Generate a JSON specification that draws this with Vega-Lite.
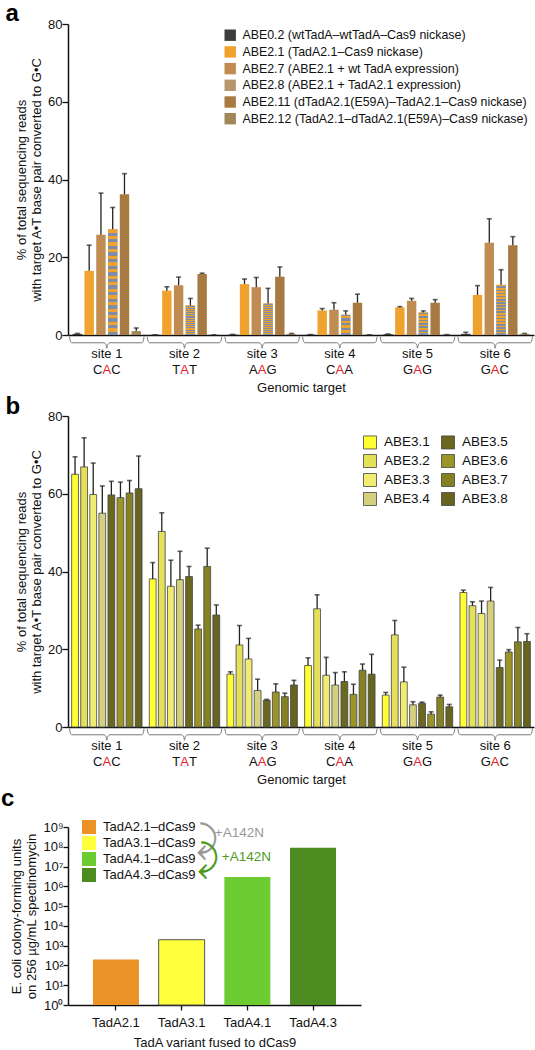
{
  "$schema": "https://vega.github.io/schema/vega-lite/v6.json",
  "padding": {"left": 0, "top": 2, "right": 0, "bottom": 0},
  "spacing": 1,
  "resolve": {"scale": {"fill": "independent", "xOffset": "independent"}, "legend": {"fill": "independent"}},
  "config": {
    "font": "Liberation Sans",
    "view": {"stroke": null},
    "axis": {"domainColor": "#111", "domainWidth": 1.5, "tickColor": "#111", "tickWidth": 1.3, "labelColor": "#111", "titleColor": "#111", "labelFontSize": 13, "titleFontSize": 13, "titleFontWeight": "normal", "grid": false},
    "axisY": {"labelPadding": 0, "titlePadding": 4},
    "legend": {"labelColor": "#111", "symbolType": "square"},
    "title": {"anchor": "start", "frame": "bounds", "fontSize": 24, "fontWeight": "bold", "color": "#000", "dx": -10}
  },
  "datasets": {
    "a": [
      {"site": "site 1", "v": "ABE0.2 (wtTadA–wtTadA–Cas9 nickase)", "val": 0.3, "err": 0.4},
      {"site": "site 1", "v": "ABE2.1 (TadA2.1–Cas9 nickase)", "val": 16.5, "err": 23.1},
      {"site": "site 1", "v": "ABE2.7 (ABE2.1 + wt TadA expression)", "val": 25.8, "err": 36.5},
      {"site": "site 1", "v": "ABE2.8 (ABE2.1 + TadA2.1 expression)", "val": 27.2, "err": 32.8},
      {"site": "site 1", "v": "ABE2.11 (dTadA2.1(E59A)–TadA2.1–Cas9 nickase)", "val": 36.2, "err": 41.5},
      {"site": "site 1", "v": "ABE2.12 (TadA2.1–dTadA2.1(E59A)–Cas9 nickase)", "val": 1.0, "err": 1.8},
      {"site": "site 2", "v": "ABE0.2 (wtTadA–wtTadA–Cas9 nickase)", "val": 0.05, "err": 0.05},
      {"site": "site 2", "v": "ABE2.1 (TadA2.1–Cas9 nickase)", "val": 11.4, "err": 12.4},
      {"site": "site 2", "v": "ABE2.7 (ABE2.1 + wt TadA expression)", "val": 12.8, "err": 14.9},
      {"site": "site 2", "v": "ABE2.8 (ABE2.1 + TadA2.1 expression)", "val": 7.6, "err": 9.4},
      {"site": "site 2", "v": "ABE2.11 (dTadA2.1(E59A)–TadA2.1–Cas9 nickase)", "val": 15.7, "err": 15.9},
      {"site": "site 2", "v": "ABE2.12 (TadA2.1–dTadA2.1(E59A)–Cas9 nickase)", "val": 0.05, "err": 0.05},
      {"site": "site 3", "v": "ABE0.2 (wtTadA–wtTadA–Cas9 nickase)", "val": 0.1, "err": 0.15},
      {"site": "site 3", "v": "ABE2.1 (TadA2.1–Cas9 nickase)", "val": 13.1, "err": 14.4},
      {"site": "site 3", "v": "ABE2.7 (ABE2.1 + wt TadA expression)", "val": 12.3, "err": 14.8},
      {"site": "site 3", "v": "ABE2.8 (ABE2.1 + TadA2.1 expression)", "val": 8.1, "err": 12.0},
      {"site": "site 3", "v": "ABE2.11 (dTadA2.1(E59A)–TadA2.1–Cas9 nickase)", "val": 15.0, "err": 17.5},
      {"site": "site 3", "v": "ABE2.12 (TadA2.1–dTadA2.1(E59A)–Cas9 nickase)", "val": 0.3, "err": 0.4},
      {"site": "site 4", "v": "ABE0.2 (wtTadA–wtTadA–Cas9 nickase)", "val": 0.1, "err": 0.1},
      {"site": "site 4", "v": "ABE2.1 (TadA2.1–Cas9 nickase)", "val": 6.3, "err": 6.8},
      {"site": "site 4", "v": "ABE2.7 (ABE2.1 + wt TadA expression)", "val": 6.5, "err": 8.3},
      {"site": "site 4", "v": "ABE2.8 (ABE2.1 + TadA2.1 expression)", "val": 5.2, "err": 6.2},
      {"site": "site 4", "v": "ABE2.11 (dTadA2.1(E59A)–TadA2.1–Cas9 nickase)", "val": 8.3, "err": 10.5},
      {"site": "site 4", "v": "ABE2.12 (TadA2.1–dTadA2.1(E59A)–Cas9 nickase)", "val": 0.05, "err": 0.05},
      {"site": "site 5", "v": "ABE0.2 (wtTadA–wtTadA–Cas9 nickase)", "val": 0.2, "err": 0.25},
      {"site": "site 5", "v": "ABE2.1 (TadA2.1–Cas9 nickase)", "val": 7.1, "err": 7.3},
      {"site": "site 5", "v": "ABE2.7 (ABE2.1 + wt TadA expression)", "val": 8.8, "err": 9.4},
      {"site": "site 5", "v": "ABE2.8 (ABE2.1 + TadA2.1 expression)", "val": 5.8, "err": 6.2},
      {"site": "site 5", "v": "ABE2.11 (dTadA2.1(E59A)–TadA2.1–Cas9 nickase)", "val": 8.3, "err": 9.1},
      {"site": "site 5", "v": "ABE2.12 (TadA2.1–dTadA2.1(E59A)–Cas9 nickase)", "val": 0.1, "err": 0.1},
      {"site": "site 6", "v": "ABE0.2 (wtTadA–wtTadA–Cas9 nickase)", "val": 0.3, "err": 0.7},
      {"site": "site 6", "v": "ABE2.1 (TadA2.1–Cas9 nickase)", "val": 10.3, "err": 12.7},
      {"site": "site 6", "v": "ABE2.7 (ABE2.1 + wt TadA expression)", "val": 23.7, "err": 29.9},
      {"site": "site 6", "v": "ABE2.8 (ABE2.1 + TadA2.1 expression)", "val": 12.9, "err": 16.8},
      {"site": "site 6", "v": "ABE2.11 (dTadA2.1(E59A)–TadA2.1–Cas9 nickase)", "val": 23.1, "err": 25.3},
      {"site": "site 6", "v": "ABE2.12 (TadA2.1–dTadA2.1(E59A)–Cas9 nickase)", "val": 0.3, "err": 0.4}
    ],
    "b": [
      {"site": "site 1", "v": "ABE3.1", "val": 65.0, "err": 69.5},
      {"site": "site 1", "v": "ABE3.2", "val": 66.9, "err": 74.4},
      {"site": "site 1", "v": "ABE3.3", "val": 59.8, "err": 67.9},
      {"site": "site 1", "v": "ABE3.4", "val": 55.0, "err": 62.0},
      {"site": "site 1", "v": "ABE3.5", "val": 59.7, "err": 63.2},
      {"site": "site 1", "v": "ABE3.6", "val": 59.0, "err": 63.0},
      {"site": "site 1", "v": "ABE3.7", "val": 60.2, "err": 63.4},
      {"site": "site 1", "v": "ABE3.8", "val": 61.3, "err": 69.7},
      {"site": "site 2", "v": "ABE3.1", "val": 38.1, "err": 42.3},
      {"site": "site 2", "v": "ABE3.2", "val": 50.3, "err": 55.1},
      {"site": "site 2", "v": "ABE3.3", "val": 36.2, "err": 42.9},
      {"site": "site 2", "v": "ABE3.4", "val": 37.9, "err": 45.2},
      {"site": "site 2", "v": "ABE3.5", "val": 38.7, "err": 41.3},
      {"site": "site 2", "v": "ABE3.6", "val": 25.2, "err": 26.2},
      {"site": "site 2", "v": "ABE3.7", "val": 41.3, "err": 46.0},
      {"site": "site 2", "v": "ABE3.8", "val": 28.8, "err": 31.4},
      {"site": "site 3", "v": "ABE3.1", "val": 13.6, "err": 14.2},
      {"site": "site 3", "v": "ABE3.2", "val": 21.1, "err": 26.1},
      {"site": "site 3", "v": "ABE3.3", "val": 17.5, "err": 22.8},
      {"site": "site 3", "v": "ABE3.4", "val": 9.4, "err": 12.3},
      {"site": "site 3", "v": "ABE3.5", "val": 6.9, "err": 7.1},
      {"site": "site 3", "v": "ABE3.6", "val": 9.0, "err": 11.1},
      {"site": "site 3", "v": "ABE3.7", "val": 7.8, "err": 8.7},
      {"site": "site 3", "v": "ABE3.8", "val": 10.8, "err": 12.0},
      {"site": "site 4", "v": "ABE3.1", "val": 15.8, "err": 17.8},
      {"site": "site 4", "v": "ABE3.2", "val": 30.4, "err": 34.0},
      {"site": "site 4", "v": "ABE3.3", "val": 13.3, "err": 17.9},
      {"site": "site 4", "v": "ABE3.4", "val": 10.8, "err": 14.0},
      {"site": "site 4", "v": "ABE3.5", "val": 11.7, "err": 14.2},
      {"site": "site 4", "v": "ABE3.6", "val": 8.4, "err": 11.0},
      {"site": "site 4", "v": "ABE3.7", "val": 14.6, "err": 16.2},
      {"site": "site 4", "v": "ABE3.8", "val": 13.6, "err": 18.7},
      {"site": "site 5", "v": "ABE3.1", "val": 8.2, "err": 8.9},
      {"site": "site 5", "v": "ABE3.2", "val": 23.7, "err": 27.4},
      {"site": "site 5", "v": "ABE3.3", "val": 11.6, "err": 15.4},
      {"site": "site 5", "v": "ABE3.4", "val": 5.7, "err": 6.5},
      {"site": "site 5", "v": "ABE3.5", "val": 6.1, "err": 6.4},
      {"site": "site 5", "v": "ABE3.6", "val": 3.3, "err": 3.9},
      {"site": "site 5", "v": "ABE3.7", "val": 7.7, "err": 8.2},
      {"site": "site 5", "v": "ABE3.8", "val": 5.2, "err": 5.8},
      {"site": "site 6", "v": "ABE3.1", "val": 34.6, "err": 35.2},
      {"site": "site 6", "v": "ABE3.2", "val": 31.2, "err": 32.2},
      {"site": "site 6", "v": "ABE3.3", "val": 29.2, "err": 32.4},
      {"site": "site 6", "v": "ABE3.4", "val": 32.4, "err": 35.9},
      {"site": "site 6", "v": "ABE3.5", "val": 15.3, "err": 17.2},
      {"site": "site 6", "v": "ABE3.6", "val": 19.3, "err": 19.9},
      {"site": "site 6", "v": "ABE3.7", "val": 21.9, "err": 25.6},
      {"site": "site 6", "v": "ABE3.8", "val": 22.0, "err": 24.0}
    ],
    "sites": [
      {"site": "site 1", "c1": "C", "c2": "A", "c3": "C"},
      {"site": "site 2", "c1": "T", "c2": "A", "c3": "T"},
      {"site": "site 3", "c1": "A", "c2": "A", "c3": "G"},
      {"site": "site 4", "c1": "C", "c2": "A", "c3": "A"},
      {"site": "site 5", "c1": "G", "c2": "A", "c3": "G"},
      {"site": "site 6", "c1": "G", "c2": "A", "c3": "C"}
    ],
    "brace": [
      {"g": 0, "bx": 0.02, "by": -0.4}, {"g": 0, "bx": 0.03, "by": -1.5}, {"g": 0, "bx": 0.05, "by": -2.0}, {"g": 0, "bx": 0.46, "by": -2.0}, {"g": 0, "bx": 0.49, "by": -2.5}, {"g": 0, "bx": 0.5, "by": -3.4}, {"g": 0, "bx": 0.51, "by": -2.5}, {"g": 0, "bx": 0.54, "by": -2.0}, {"g": 0, "bx": 0.95, "by": -2.0}, {"g": 0, "bx": 0.97, "by": -1.5}, {"g": 0, "bx": 0.98, "by": -0.4},
      {"g": 1, "bx": 1.02, "by": -0.4}, {"g": 1, "bx": 1.03, "by": -1.5}, {"g": 1, "bx": 1.05, "by": -2.0}, {"g": 1, "bx": 1.46, "by": -2.0}, {"g": 1, "bx": 1.49, "by": -2.5}, {"g": 1, "bx": 1.5, "by": -3.4}, {"g": 1, "bx": 1.51, "by": -2.5}, {"g": 1, "bx": 1.54, "by": -2.0}, {"g": 1, "bx": 1.95, "by": -2.0}, {"g": 1, "bx": 1.97, "by": -1.5}, {"g": 1, "bx": 1.98, "by": -0.4},
      {"g": 2, "bx": 2.02, "by": -0.4}, {"g": 2, "bx": 2.03, "by": -1.5}, {"g": 2, "bx": 2.05, "by": -2.0}, {"g": 2, "bx": 2.46, "by": -2.0}, {"g": 2, "bx": 2.49, "by": -2.5}, {"g": 2, "bx": 2.5, "by": -3.4}, {"g": 2, "bx": 2.51, "by": -2.5}, {"g": 2, "bx": 2.54, "by": -2.0}, {"g": 2, "bx": 2.95, "by": -2.0}, {"g": 2, "bx": 2.97, "by": -1.5}, {"g": 2, "bx": 2.98, "by": -0.4},
      {"g": 3, "bx": 3.02, "by": -0.4}, {"g": 3, "bx": 3.03, "by": -1.5}, {"g": 3, "bx": 3.05, "by": -2.0}, {"g": 3, "bx": 3.46, "by": -2.0}, {"g": 3, "bx": 3.49, "by": -2.5}, {"g": 3, "bx": 3.5, "by": -3.4}, {"g": 3, "bx": 3.51, "by": -2.5}, {"g": 3, "bx": 3.54, "by": -2.0}, {"g": 3, "bx": 3.95, "by": -2.0}, {"g": 3, "bx": 3.97, "by": -1.5}, {"g": 3, "bx": 3.98, "by": -0.4},
      {"g": 4, "bx": 4.02, "by": -0.4}, {"g": 4, "bx": 4.03, "by": -1.5}, {"g": 4, "bx": 4.05, "by": -2.0}, {"g": 4, "bx": 4.46, "by": -2.0}, {"g": 4, "bx": 4.49, "by": -2.5}, {"g": 4, "bx": 4.5, "by": -3.4}, {"g": 4, "bx": 4.51, "by": -2.5}, {"g": 4, "bx": 4.54, "by": -2.0}, {"g": 4, "bx": 4.95, "by": -2.0}, {"g": 4, "bx": 4.97, "by": -1.5}, {"g": 4, "bx": 4.98, "by": -0.4},
      {"g": 5, "bx": 5.02, "by": -0.4}, {"g": 5, "bx": 5.03, "by": -1.5}, {"g": 5, "bx": 5.05, "by": -2.0}, {"g": 5, "bx": 5.46, "by": -2.0}, {"g": 5, "bx": 5.49, "by": -2.5}, {"g": 5, "bx": 5.5, "by": -3.4}, {"g": 5, "bx": 5.51, "by": -2.5}, {"g": 5, "bx": 5.54, "by": -2.0}, {"g": 5, "bx": 5.95, "by": -2.0}, {"g": 5, "bx": 5.97, "by": -1.5}, {"g": 5, "bx": 5.98, "by": -0.4}
    ],
    "c": [
      {"t": "TadA2.1", "cfu": 200},
      {"t": "TadA3.1", "cfu": 2000},
      {"t": "TadA4.1", "cfu": 3000000},
      {"t": "TadA4.3", "cfu": 90000000}
    ]
  },
  "vconcat": [
    {
      "title": {"text": "a", "offset": -8},
      "width": 466,
      "height": 311,
      "resolve": {"scale": {"x": "independent", "y": "independent"}},
      "layer": [
        {
          "encoding": {
            "x": {"field": "site", "type": "nominal", "scale": {"paddingInner": 0, "paddingOuter": 0},
                  "axis": {"title": "Genomic target", "labelAngle": 0, "ticks": false, "labelPadding": 12, "labelBaseline": "top", "titlePadding": 21}}
          },
          "layer": [
            {
              "data": {"name": "a"},
              "mark": {"type": "bar"},
              "encoding": {
                "xOffset": {"field": "v", "type": "nominal", "scale": {"paddingInner": 0.2, "paddingOuter": 0.4, "domain": ["ABE0.2 (wtTadA–wtTadA–Cas9 nickase)", "ABE2.1 (TadA2.1–Cas9 nickase)", "ABE2.7 (ABE2.1 + wt TadA expression)", "ABE2.8 (ABE2.1 + TadA2.1 expression)", "ABE2.11 (dTadA2.1(E59A)–TadA2.1–Cas9 nickase)", "ABE2.12 (TadA2.1–dTadA2.1(E59A)–Cas9 nickase)"]}},
                "y": {"field": "val", "type": "quantitative", "scale": {"domain": [0, 80], "nice": false},
                      "axis": {"title": ["% of total sequencing reads", "with target A•T base pair converted to G•C"], "values": [0, 10, 20, 30, 40, 50, 60, 70, 80], "labelExpr": "datum.value % 20 == 0 ? datum.label : ''", "tickSize": {"condition": {"test": "datum.value % 20 == 0", "value": 6}, "value": 4}}},
                "fill": {"field": "v", "type": "nominal",
                         "scale": {"domain": ["ABE0.2 (wtTadA–wtTadA–Cas9 nickase)", "ABE2.1 (TadA2.1–Cas9 nickase)", "ABE2.7 (ABE2.1 + wt TadA expression)", "ABE2.8 (ABE2.1 + TadA2.1 expression)", "ABE2.11 (dTadA2.1(E59A)–TadA2.1–Cas9 nickase)", "ABE2.12 (TadA2.1–dTadA2.1(E59A)–Cas9 nickase)"],
                                   "range": ["#3d3d3d", "#F0A22E", "#C08C52", "#B8976E", "#A67A40", "#A08658"]},
                         "legend": {"title": null, "orient": "none", "legendX": 156, "legendY": 5, "symbolSize": 130, "labelFontSize": 12.4, "labelLimit": 400, "rowPadding": 3.7, "labelOffset": 6, "symbolStrokeWidth": 0}}
              }
            },
            {
              "data": {"name": "a"},
              "transform": [{"filter": "datum.v == 'ABE2.8 (ABE2.1 + TadA2.1 expression)'"}],
              "mark": {"type": "bar", "fill": {"gradient": "linear", "x1": 0, "y1": 0, "x2": 0, "y2": 1, "stops": [
                {"offset": 0, "color": "#F0A22E"}, {"offset": 0.03125, "color": "#F0A22E"}, {"offset": 0.03125, "color": "#7F8CA6"}, {"offset": 0.0625, "color": "#7F8CA6"},
                {"offset": 0.0625, "color": "#F0A22E"}, {"offset": 0.09375, "color": "#F0A22E"}, {"offset": 0.09375, "color": "#7F8CA6"}, {"offset": 0.125, "color": "#7F8CA6"},
                {"offset": 0.125, "color": "#F0A22E"}, {"offset": 0.15625, "color": "#F0A22E"}, {"offset": 0.15625, "color": "#7F8CA6"}, {"offset": 0.1875, "color": "#7F8CA6"},
                {"offset": 0.1875, "color": "#F0A22E"}, {"offset": 0.21875, "color": "#F0A22E"}, {"offset": 0.21875, "color": "#7F8CA6"}, {"offset": 0.25, "color": "#7F8CA6"},
                {"offset": 0.25, "color": "#F0A22E"}, {"offset": 0.28125, "color": "#F0A22E"}, {"offset": 0.28125, "color": "#7F8CA6"}, {"offset": 0.3125, "color": "#7F8CA6"},
                {"offset": 0.3125, "color": "#F0A22E"}, {"offset": 0.34375, "color": "#F0A22E"}, {"offset": 0.34375, "color": "#7F8CA6"}, {"offset": 0.375, "color": "#7F8CA6"},
                {"offset": 0.375, "color": "#F0A22E"}, {"offset": 0.40625, "color": "#F0A22E"}, {"offset": 0.40625, "color": "#7F8CA6"}, {"offset": 0.4375, "color": "#7F8CA6"},
                {"offset": 0.4375, "color": "#F0A22E"}, {"offset": 0.46875, "color": "#F0A22E"}, {"offset": 0.46875, "color": "#7F8CA6"}, {"offset": 0.5, "color": "#7F8CA6"},
                {"offset": 0.5, "color": "#F0A22E"}, {"offset": 0.53125, "color": "#F0A22E"}, {"offset": 0.53125, "color": "#7F8CA6"}, {"offset": 0.5625, "color": "#7F8CA6"},
                {"offset": 0.5625, "color": "#F0A22E"}, {"offset": 0.59375, "color": "#F0A22E"}, {"offset": 0.59375, "color": "#7F8CA6"}, {"offset": 0.625, "color": "#7F8CA6"},
                {"offset": 0.625, "color": "#F0A22E"}, {"offset": 0.65625, "color": "#F0A22E"}, {"offset": 0.65625, "color": "#7F8CA6"}, {"offset": 0.6875, "color": "#7F8CA6"},
                {"offset": 0.6875, "color": "#F0A22E"}, {"offset": 0.71875, "color": "#F0A22E"}, {"offset": 0.71875, "color": "#7F8CA6"}, {"offset": 0.75, "color": "#7F8CA6"},
                {"offset": 0.75, "color": "#F0A22E"}, {"offset": 0.78125, "color": "#F0A22E"}, {"offset": 0.78125, "color": "#7F8CA6"}, {"offset": 0.8125, "color": "#7F8CA6"},
                {"offset": 0.8125, "color": "#F0A22E"}, {"offset": 0.84375, "color": "#F0A22E"}, {"offset": 0.84375, "color": "#7F8CA6"}, {"offset": 0.875, "color": "#7F8CA6"},
                {"offset": 0.875, "color": "#F0A22E"}, {"offset": 0.90625, "color": "#F0A22E"}, {"offset": 0.90625, "color": "#7F8CA6"}, {"offset": 0.9375, "color": "#7F8CA6"},
                {"offset": 0.9375, "color": "#F0A22E"}, {"offset": 0.96875, "color": "#F0A22E"}, {"offset": 0.96875, "color": "#7F8CA6"}, {"offset": 1, "color": "#7F8CA6"}
              ]}},
              "encoding": {
                "xOffset": {"field": "v", "type": "nominal", "scale": {"paddingInner": 0.2, "paddingOuter": 0.4}},
                "y": {"field": "val", "type": "quantitative",
                      "axis": {"title": ["% of total sequencing reads", "with target A•T base pair converted to G•C"], "values": [0, 10, 20, 30, 40, 50, 60, 70, 80], "labelExpr": "datum.value % 20 == 0 ? datum.label : ''", "tickSize": {"condition": {"test": "datum.value % 20 == 0", "value": 6}, "value": 4}}}
              }
            },
            {
              "data": {"name": "a"},
              "mark": {"type": "rule", "color": "#222", "strokeWidth": 1.3},
              "encoding": {
                "xOffset": {"field": "v", "type": "nominal", "scale": {"paddingInner": 0.2, "paddingOuter": 0.4}},
                "y": {"field": "val", "type": "quantitative",
                      "axis": {"title": ["% of total sequencing reads", "with target A•T base pair converted to G•C"], "values": [0, 10, 20, 30, 40, 50, 60, 70, 80], "labelExpr": "datum.value % 20 == 0 ? datum.label : ''", "tickSize": {"condition": {"test": "datum.value % 20 == 0", "value": 6}, "value": 4}}},
                "y2": {"field": "err"}
              }
            },
            {
              "data": {"name": "a"},
              "mark": {"type": "tick", "color": "#222", "thickness": 1.6, "size": 5},
              "encoding": {
                "xOffset": {"field": "v", "type": "nominal", "scale": {"paddingInner": 0.2, "paddingOuter": 0.4}},
                "y": {"field": "err", "type": "quantitative",
                      "axis": {"title": ["% of total sequencing reads", "with target A•T base pair converted to G•C"], "values": [0, 10, 20, 30, 40, 50, 60, 70, 80], "labelExpr": "datum.value % 20 == 0 ? datum.label : ''", "tickSize": {"condition": {"test": "datum.value % 20 == 0", "value": 6}, "value": 4}}}
              }
            },
            {
              "data": {"name": "sites"},
              "mark": {"type": "text", "align": "right", "baseline": "middle", "dx": -4.4, "dy": 35, "fontSize": 13, "color": "#111"},
              "encoding": {"y": {"datum": 0}, "text": {"field": "c1"}}
            },
            {
              "data": {"name": "sites"},
              "mark": {"type": "text", "align": "center", "baseline": "middle", "dy": 35, "fontSize": 13, "color": "#E8202A"},
              "encoding": {"y": {"datum": 0}, "text": {"field": "c2"}}
            },
            {
              "data": {"name": "sites"},
              "mark": {"type": "text", "align": "left", "baseline": "middle", "dx": 4.4, "dy": 35, "fontSize": 13, "color": "#111"},
              "encoding": {"y": {"datum": 0}, "text": {"field": "c3"}}
            }
          ]
        },
        {
          "data": {"name": "brace"},
          "mark": {"type": "line", "interpolate": "monotone", "color": "#777", "strokeWidth": 1},
          "encoding": {
            "x": {"field": "bx", "type": "quantitative", "scale": {"domain": [0, 6], "nice": false, "zero": false}, "axis": null},
            "y": {"field": "by", "type": "quantitative", "scale": {"domain": [0, 80], "nice": false}, "axis": null},
            "detail": {"field": "g"}
          }
        }
      ]
    },
    {
      "title": {"text": "b", "offset": -12, "dy": -3},
      "width": 466,
      "height": 311,
      "resolve": {"scale": {"x": "independent", "y": "independent"}},
      "layer": [
        {
          "encoding": {
            "x": {"field": "site", "type": "nominal", "scale": {"paddingInner": 0, "paddingOuter": 0},
                  "axis": {"title": "Genomic target", "labelAngle": 0, "ticks": false, "labelPadding": 12, "labelBaseline": "top", "titlePadding": 21}}
          },
          "layer": [
            {
              "data": {"name": "b"},
              "mark": {"type": "bar", "stroke": "#444", "strokeWidth": 0.8},
              "encoding": {
                "xOffset": {"field": "v", "type": "nominal", "scale": {"paddingInner": 0.25, "paddingOuter": 0.4, "domain": ["ABE3.1", "ABE3.2", "ABE3.3", "ABE3.4", "ABE3.5", "ABE3.6", "ABE3.7", "ABE3.8"]}},
                "y": {"field": "val", "type": "quantitative", "scale": {"domain": [0, 80], "nice": false},
                      "axis": {"title": ["% of total sequencing reads", "with target A•T base pair converted to G•C"], "values": [0, 10, 20, 30, 40, 50, 60, 70, 80], "labelExpr": "datum.value % 20 == 0 ? datum.label : ''", "tickSize": {"condition": {"test": "datum.value % 20 == 0", "value": 6}, "value": 4}}},
                "fill": {"field": "v", "type": "nominal",
                         "scale": {"domain": ["ABE3.1", "ABE3.2", "ABE3.3", "ABE3.4", "ABE3.5", "ABE3.6", "ABE3.7", "ABE3.8"],
                                   "range": ["#FFFF33", "#E4E05A", "#F0EC72", "#D5D07E", "#6A681E", "#9A9526", "#858224", "#66641F"]},
                         "legend": {"title": null, "orient": "none", "legendX": 295, "legendY": 19, "columns": 2, "columnPadding": 9, "symbolSize": 169, "labelFontSize": 13.5, "rowPadding": 1, "labelOffset": 7, "symbolStrokeColor": "#444", "symbolStrokeWidth": 0.8}}
              }
            },
            {
              "data": {"name": "b"},
              "mark": {"type": "rule", "color": "#222", "strokeWidth": 1.3},
              "encoding": {
                "xOffset": {"field": "v", "type": "nominal", "scale": {"paddingInner": 0.25, "paddingOuter": 0.4}},
                "y": {"field": "val", "type": "quantitative",
                      "axis": {"title": ["% of total sequencing reads", "with target A•T base pair converted to G•C"], "values": [0, 10, 20, 30, 40, 50, 60, 70, 80], "labelExpr": "datum.value % 20 == 0 ? datum.label : ''", "tickSize": {"condition": {"test": "datum.value % 20 == 0", "value": 6}, "value": 4}}},
                "y2": {"field": "err"}
              }
            },
            {
              "data": {"name": "b"},
              "mark": {"type": "tick", "color": "#222", "thickness": 1.6, "size": 5},
              "encoding": {
                "xOffset": {"field": "v", "type": "nominal", "scale": {"paddingInner": 0.25, "paddingOuter": 0.4}},
                "y": {"field": "err", "type": "quantitative",
                      "axis": {"title": ["% of total sequencing reads", "with target A•T base pair converted to G•C"], "values": [0, 10, 20, 30, 40, 50, 60, 70, 80], "labelExpr": "datum.value % 20 == 0 ? datum.label : ''", "tickSize": {"condition": {"test": "datum.value % 20 == 0", "value": 6}, "value": 4}}}
              }
            },
            {
              "data": {"name": "sites"},
              "mark": {"type": "text", "align": "right", "baseline": "middle", "dx": -4.4, "dy": 35, "fontSize": 13, "color": "#111"},
              "encoding": {"y": {"datum": 0}, "text": {"field": "c1"}}
            },
            {
              "data": {"name": "sites"},
              "mark": {"type": "text", "align": "center", "baseline": "middle", "dy": 35, "fontSize": 13, "color": "#E8202A"},
              "encoding": {"y": {"datum": 0}, "text": {"field": "c2"}}
            },
            {
              "data": {"name": "sites"},
              "mark": {"type": "text", "align": "left", "baseline": "middle", "dx": 4.4, "dy": 35, "fontSize": 13, "color": "#111"},
              "encoding": {"y": {"datum": 0}, "text": {"field": "c3"}}
            }
          ]
        },
        {
          "data": {"name": "brace"},
          "mark": {"type": "line", "interpolate": "monotone", "color": "#777", "strokeWidth": 1},
          "encoding": {
            "x": {"field": "bx", "type": "quantitative", "scale": {"domain": [0, 6], "nice": false, "zero": false}, "axis": null},
            "y": {"field": "by", "type": "quantitative", "scale": {"domain": [0, 80], "nice": false}, "axis": null},
            "detail": {"field": "g"}
          }
        }
      ]
    },
    {
      "title": {"text": "c", "offset": 6, "dy": -3},
      "width": 293,
      "height": 178,
      "data": {"name": "c"},
      "encoding": {
        "x": {"field": "t", "type": "nominal", "scale": {"paddingInner": 0.3, "paddingOuter": 0.38},
              "axis": {"title": "TadA variant fused to dCas9", "labelAngle": 0, "tickSize": 5, "labelPadding": 6, "titlePadding": 7}}
      },
      "layer": [
        {
          "mark": {"type": "bar"},
          "encoding": {
            "y": {"field": "cfu", "type": "quantitative", "scale": {"type": "log", "domain": [1, 1000000000], "nice": false},
                  "axis": {"title": ["E. coli colony-forming units", "on 256 µg/mL spectinomycin"], "values": [1, 10, 100, 1000, 10000, 100000, 1000000, 10000000, 100000000, 1000000000], "labelExpr": "'10' + ['⁰','¹','²','³','⁴','⁵','⁶','⁷','⁸','⁹'][round(log(datum.value)/LN10)]", "tickSize": 5}},
            "y2": {"datum": 1},
            "fill": {"field": "t", "type": "nominal",
                     "scale": {"domain": ["TadA2.1", "TadA3.1", "TadA4.1", "TadA4.3"], "range": ["#EA9226", "#FFFF3C", "#6DCC32", "#4B8B1F"]},
                     "legend": {"title": null, "orient": "none", "legendX": 14, "legendY": -7, "symbolSize": 196, "labelFontSize": 13, "rowPadding": 2, "labelOffset": 7, "labelExpr": "datum.label + '–dCas9'", "symbolStrokeWidth": 0}},
            "stroke": {"condition": {"test": "datum.t == 'TadA3.1'", "value": "#555"}, "value": null}
          }
        },
        {
          "data": {"values": [{"lab": "+A142N"}]},
          "mark": {"type": "text", "fontSize": 13.5, "color": "#999", "align": "center", "baseline": "middle", "dx": -8},
          "encoding": {"x": {"datum": "TadA4.1"}, "y": {"datum": 500000000}, "text": {"field": "lab"}}
        },
        {
          "data": {"values": [{"lab": "+A142N"}]},
          "mark": {"type": "text", "fontSize": 13.5, "color": "#4E9A1E", "align": "center", "baseline": "middle", "dx": -1},
          "encoding": {"x": {"datum": "TadA4.1"}, "y": {"datum": 30000000}, "text": {"field": "lab"}}
        },
        {
          "data": {"values": [{"lab": "⤸"}]},
          "mark": {"type": "text", "font": "DejaVu Sans", "fontSize": 37, "color": "#999", "align": "center", "baseline": "middle", "dx": 25},
          "encoding": {"x": {"datum": "TadA3.1"}, "y": {"datum": 195000000}, "text": {"field": "lab"}}
        },
        {
          "data": {"values": [{"lab": "⤸"}]},
          "mark": {"type": "text", "font": "DejaVu Sans", "fontSize": 37, "color": "#4E9A1E", "align": "center", "baseline": "middle", "dx": 26},
          "encoding": {"x": {"datum": "TadA3.1"}, "y": {"datum": 21000000}, "text": {"field": "lab"}}
        }
      ]
    }
  ]
}
